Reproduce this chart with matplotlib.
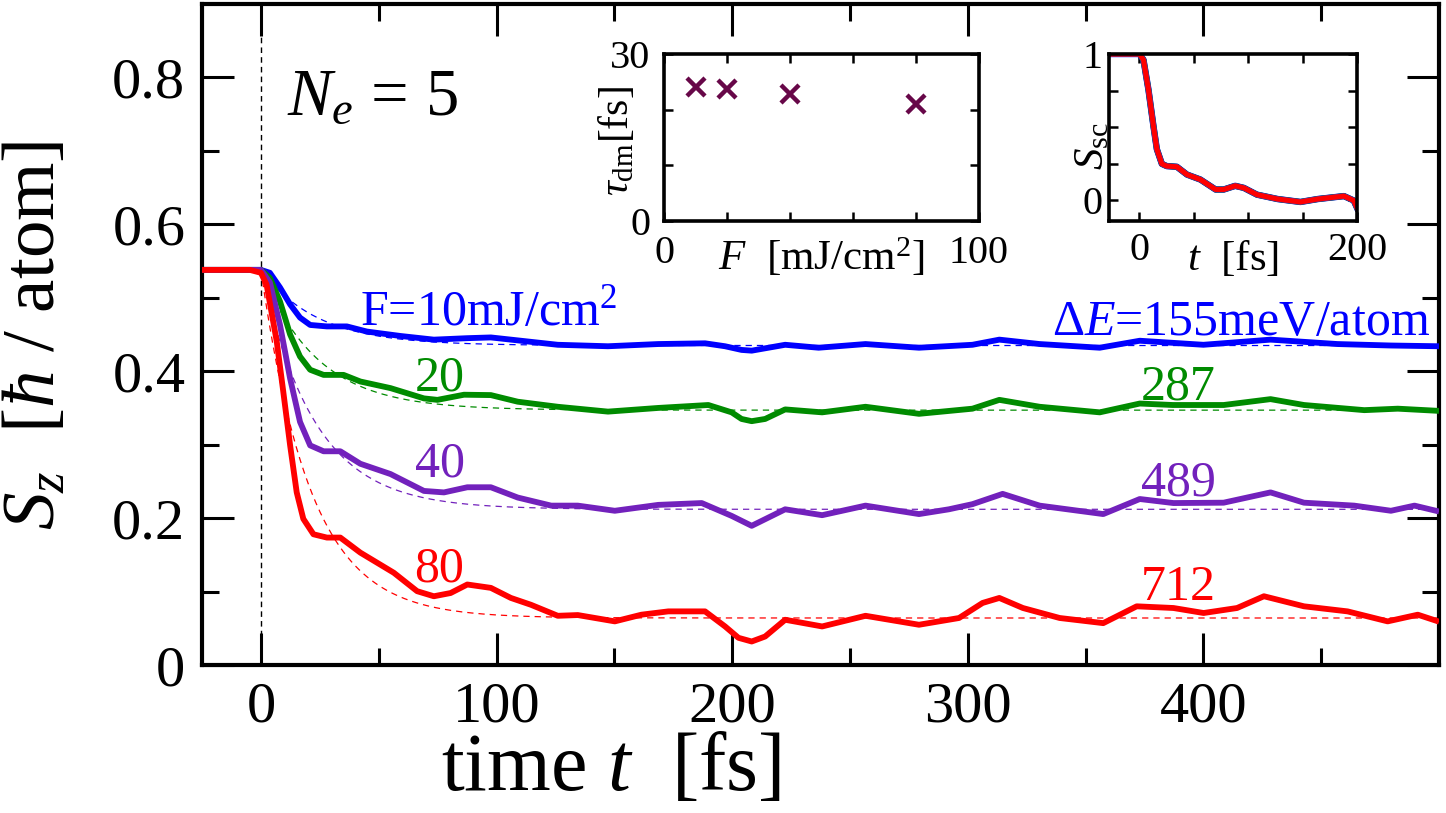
import numpy as np
import matplotlib
matplotlib.use("Agg")
import matplotlib.pyplot as plt

plt.rcParams['font.family'] = ['Liberation Serif', 'DejaVu Serif']
plt.rcParams['mathtext.fontset'] = 'custom'
plt.rcParams['mathtext.rm'] = 'Liberation Serif'
plt.rcParams['mathtext.it'] = 'Liberation Serif:italic'
plt.rcParams['mathtext.bf'] = 'Liberation Serif:bold'

# ---------------- data ----------------
t_blue = [-25, 0, 3.8, 8.1, 12.4, 16.6, 20.9, 28, 36.5, 45, 59.2, 73.4, 87.6, 97.6, 111.8, 126,
          147.3, 168.6, 188.5, 197, 204, 208.3, 222.5, 236.7, 256.6, 279.3, 302, 313.4, 330.5,
          356, 373, 400, 428.5, 456.9, 479.6, 500]
s_blue = [0.538, 0.538, 0.534, 0.514, 0.491, 0.473, 0.463, 0.461, 0.461, 0.454, 0.448, 0.443, 0.445,
          0.446, 0.441, 0.436, 0.434, 0.437, 0.438, 0.434, 0.429, 0.428, 0.436, 0.432, 0.437, 0.432,
          0.436, 0.443, 0.437, 0.432, 0.4415, 0.436, 0.443, 0.437, 0.435, 0.434]

t_green = [-25, 0, 3.8, 8.1, 12.4, 16.6, 20.9, 26.6, 35.1, 42.2, 55, 69.2, 74.9, 86.2, 97.6, 109,
           126, 147.3, 168.6, 189.9, 199.8, 204, 208.3, 214, 222.5, 238.2, 256.6, 279.3, 302, 313.4,
           330.5, 356, 373, 387, 408.6, 428.5, 442.7, 468.3, 482.5, 500]
s_green = [0.538, 0.538, 0.527, 0.495, 0.450, 0.420, 0.402, 0.395, 0.395, 0.386, 0.377, 0.363, 0.361,
           0.368, 0.3675, 0.3585, 0.3516, 0.345, 0.350, 0.354, 0.344, 0.335, 0.332, 0.335, 0.348,
           0.344, 0.3516, 0.342, 0.349, 0.361, 0.3516, 0.344, 0.356, 0.354, 0.354, 0.362, 0.354,
           0.347, 0.349, 0.346]

t_purple = [-25, 0, 3.8, 8.1, 12.4, 16.6, 20.9, 26.6, 33.7, 42.2, 55, 69.2, 77.7, 87.6, 97.6, 109,
            123.2, 134.5, 150.2, 168.6, 187.1, 199.8, 208.3, 222.5, 238.2, 256.6, 279.3, 292, 302,
            314.8, 330.5, 357.5, 373, 387.3, 408.6, 428.5, 442.7, 464, 479.6, 489.6, 500]
s_purple = [0.538, 0.538, 0.521, 0.463, 0.390, 0.331, 0.299, 0.291, 0.291, 0.274, 0.260, 0.237, 0.235,
            0.242, 0.242, 0.228, 0.217, 0.217, 0.210, 0.218, 0.2205, 0.203, 0.1895, 0.212, 0.204,
            0.217, 0.2055, 0.212, 0.219, 0.233, 0.217, 0.2055, 0.226, 0.2205, 0.221, 0.235, 0.221,
            0.217, 0.210, 0.217, 0.209]

t_red = [-25, -4.7, 0, 2.4, 6.7, 9.5, 12.4, 15.2, 18.0, 22.3, 28, 33.7, 42.2, 56.4, 66.3, 73.4, 80.5,
         87.6, 97.6, 106.1, 114.6, 126, 134.5, 150.2, 161.5, 172.9, 188.5, 197, 202.7, 208.3, 214,
         222.5, 238.2, 256.6, 279.3, 296.3, 306.3, 313.4, 323.4, 339, 357.5, 371.7, 387.3, 400.1,
         414.3, 425.7, 442.7, 461.2, 478.2, 491, 500]
s_red = [0.538, 0.538, 0.534, 0.518, 0.441, 0.372, 0.299, 0.235, 0.199, 0.178, 0.1735, 0.1735, 0.153,
         0.1256, 0.1005, 0.0936, 0.098, 0.1096, 0.105, 0.0913, 0.082, 0.067, 0.068, 0.0594, 0.0685,
         0.073, 0.073, 0.0525, 0.037, 0.032, 0.0388, 0.0616, 0.0525, 0.067, 0.0548, 0.064, 0.0845,
         0.0913, 0.0776, 0.064, 0.057, 0.0799, 0.0776, 0.0708, 0.0776, 0.0936, 0.0799, 0.073,
         0.0594, 0.0685, 0.059]

# fit parameters (demagnetization time from the inset, asymptotic values from dashed lines)
fluence = [10, 20, 40, 80]
tau_dm = [24.0, 23.8, 22.8, 21.1]
s_inf = [0.435, 0.347, 0.212, 0.064]
s_start = 0.538
energy = [155, 287, 489, 712]

# inset: normalized spin S_sc
t_sc = [-28, 0, 3.7, 8.3, 12.9, 16, 20.6, 25, 34.4, 43.7, 56, 70, 77.5, 88, 96, 108, 127, 148,
        164, 176, 188, 197, 200]
s_sc = [1, 1, 0.96, 0.755, 0.506, 0.35, 0.25, 0.235, 0.23, 0.177, 0.143, 0.075, 0.075, 0.10,
        0.086, 0.04, 0.01, -0.01, 0.01, 0.02, 0.03, 0.0, -0.05]

colors = ['#0000FF', '#008B00', '#7221BC', '#FF0000']
curves = [(t_blue, s_blue), (t_green, s_green), (t_purple, s_purple), (t_red, s_red)]

# ---------------- figure ----------------
fig = plt.figure(figsize=(14.46, 8.13), dpi=100)
ax = fig.add_axes([202/1446, 1-665/813, (1439-202)/1446, 661/813])

ax.axvline(0, color='black', lw=1.0, ls=(0, (4, 3)), zorder=1)

tfit = np.linspace(0, 500, 600)
for (tt, ss), c, tau, sinf in zip(curves, colors, tau_dm, s_inf):
    ax.plot(tfit, sinf + (s_start - sinf) * np.exp(-tfit / tau), color=c, lw=0.9,
            ls=(0, (5, 4)), zorder=2)
for (tt, ss), c in zip(curves, colors):
    ax.plot(tt, ss, color=c, lw=4.2, solid_joinstyle='round', solid_capstyle='butt', zorder=3)

ax.set_xlim(-25, 500)
ax.set_ylim(0, 0.9)
ax.set_xticks([0, 100, 200, 300, 400])
ax.set_xticks(np.arange(50, 500, 100), minor=True)
ax.set_yticks([0, 0.2, 0.4, 0.6, 0.8])
ax.set_yticklabels(['0', '0.2', '0.4', '0.6', '0.8'])
ax.set_yticks([0.1, 0.3, 0.5, 0.7], minor=True)
ax.tick_params(which='both', direction='in', top=True, right=True, width=2.2, labelsize=42, pad=12)
ax.tick_params(which='major', length=23)
ax.tick_params(which='minor', length=12)
for sp in ax.spines.values():
    sp.set_linewidth(3.0)

fig.text(611/1446, 1-790/813, r"time $t$  [fs]", fontsize=59, ha='center', va='baseline')
fig.text(37/1446, 1-335/813, r"$S_z$  [$ħ$ / atom]", fontsize=54, ha='center', va='center',
         rotation=90)

ax.text((287-202)/1237, (665-115)/661, r"$N_e$ = 5", transform=ax.transAxes,
        fontsize=48, ha='left', va='baseline')

lab_fs = 36
ax.text(42.2, 0.463, r"F=10mJ/cm$^2$", color=colors[0], fontsize=lab_fs, ha='left', va='baseline')
for f, c, y in zip(fluence[1:], colors[1:], [0.374, 0.256, 0.114]):
    ax.text(75.8, y, str(f), color=c, fontsize=lab_fs, ha='center', va='baseline')
ax.text(496.4, 0.4497, r"Δ$E$=%dmeV/atom" % energy[0], color=colors[0], fontsize=lab_fs,
        ha='right', va='baseline')
for e, c, y in zip(energy[1:], colors[1:], [0.361, 0.2306, 0.088]):
    ax.text(389.4, y, str(e), color=c, fontsize=lab_fs, ha='center', va='baseline')

# ---------------- inset 1: tau_dm vs F ----------------
ax1 = fig.add_axes([664/1446, 1-221/813, 315/1446, 167/813])
ax1.plot(fluence, tau_dm, ls='none', marker='x', color='#670748', ms=13, mew=3.2)
ax1.set_xlim(0, 100)
ax1.set_ylim(0, 30)
ax1.set_xticks([0, 20, 40, 60, 80, 100])
ax1.set_xticklabels(['0', '', '', '', '', '100'])
ax1.set_yticks([0, 10, 20, 30])
ax1.set_yticklabels(['0', '', '', '30'])
ax1.tick_params(direction='in', top=True, right=True, length=6.5, width=1.8, labelsize=29, pad=10)
for sp in ax1.spines.values():
    sp.set_linewidth(2.6)
ax1.text(0.50, (221-270)/167, r"$F$  [mJ/cm$^2$]", transform=ax1.transAxes, fontsize=31,
         ha='center', va='baseline')
ax1.text(-0.15, 0.48, r"$\tau_{\rm dm}$[fs]", transform=ax1.transAxes, fontsize=30,
         ha='center', va='center', rotation=90)

# ---------------- inset 2: normalized curves ----------------
ax2 = fig.add_axes([1109/1446, 1-221/813, 248/1446, 167/813])
for c, lw in zip(colors, [4.6, 4.3, 4.0, 3.6]):
    ax2.plot(t_sc, s_sc, color=c, lw=lw, solid_joinstyle='round')
ax2.set_xlim(-28, 200)
ax2.set_ylim(-0.14, 1.0)
ax2.set_xticks([0, 50, 100, 150, 200])
ax2.set_xticklabels(['0', '', '', '', '200'])
ax2.set_yticks([0, 0.25, 0.5, 0.75, 1.0])
ax2.set_yticklabels(['0', '', '', '', '1'])
ax2.tick_params(direction='in', top=True, right=True, length=6.5, width=1.8, labelsize=29, pad=8)
ax2.tick_params(axis='y', pad=5)
for sp in ax2.spines.values():
    sp.set_linewidth(2.6)
ax2.text(0.50, (221-270)/167, r"$t$  [fs]", transform=ax2.transAxes, fontsize=31,
         ha='center', va='baseline')
ax2.text(-0.065, 0.45, r"$S_{\rm sc}$", transform=ax2.transAxes, fontsize=31,
         ha='center', va='center', rotation=90)

fig.savefig("out.png", dpi=100)
